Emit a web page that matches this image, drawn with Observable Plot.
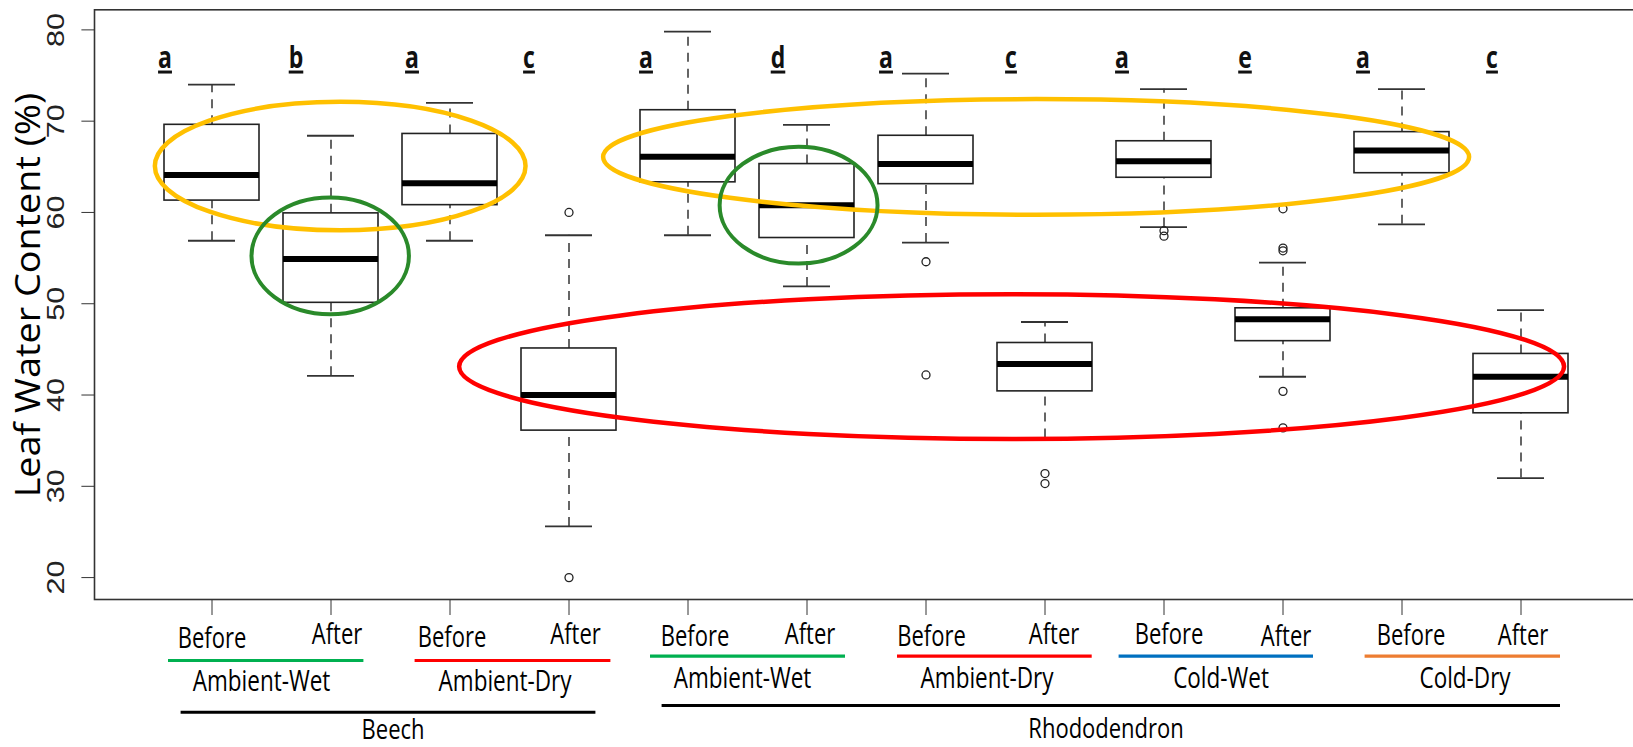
<!DOCTYPE html>
<html>
<head>
<meta charset="utf-8">
<script src="https://cdn.jsdelivr.net/npm/d3@7"></script>
<script src="https://cdn.jsdelivr.net/npm/@observablehq/plot@0.6"></script>
<style>
html, body { margin: 0; padding: 0; background: #fff; overflow: hidden; }
#chart svg { display: block; max-width: none !important; }
</style>
</head>
<body>
<div id="chart"></div>
<script>
// ---------- data ----------
const species = ["Beech","Beech","Beech","Beech",
  "Rhododendron","Rhododendron","Rhododendron","Rhododendron",
  "Rhododendron","Rhododendron","Rhododendron","Rhododendron"];
const treatments = ["Ambient-Wet","Ambient-Wet","Ambient-Dry","Ambient-Dry",
  "Ambient-Wet","Ambient-Wet","Ambient-Dry","Ambient-Dry",
  "Cold-Wet","Cold-Wet","Cold-Dry","Cold-Dry"];
const phases = ["Before","After","Before","After","Before","After",
  "Before","After","Before","After","Before","After"];

const whiskerLow  = [56.9, 42.1, 56.9, 25.6, 57.5, 51.9, 56.7, 35.3, 58.4, 42.0, 58.7, 30.9];
const q1          = [61.3, 50.1, 60.8, 36.1, 63.3, 57.2, 63.1, 40.4, 63.8, 45.9, 64.3, 38.0];
const median      = [64.1, 54.9, 63.2, 40.0, 66.1, 60.8, 65.3, 43.4, 65.6, 48.3, 66.8, 42.0];
const q3          = [69.6, 59.9, 68.6, 45.1, 71.2, 65.3, 68.4, 45.7, 67.8, 49.5, 68.8, 44.5];
const whiskerHigh = [74.0, 68.4, 72.0, 57.5, 79.8, 69.6, 75.2, 48.0, 73.5, 54.5, 73.5, 49.3];
const outliers = [[], [], [], [60.0, 20.0], [], [], [54.6, 42.2], [31.4, 30.3],
  [58.0, 57.4], [60.4, 56.1, 55.8, 40.4, 36.4], [], []];
const letters = ["a","b","a","c","a","d","a","c","a","e","a","c"];

const yTicks = [20, 30, 40, 50, 60, 70, 80];
const yDomain = [17.6, 82.2];
const yTitle = "Leaf Water Content (%)";

// hand-drawn rings (box-position units 1..12, value units)
const ringGroup = ["before", "wet-after", "before", "wet-after", "dry-after"];
const ringLeft  = [0.524, 1.336, 4.291, 5.270, 3.081];
const ringRight = [3.639, 2.659, 11.568, 6.597, 12.366];
const ringLow   = [57.99, 48.79, 59.70, 54.35, 35.13];
const ringHigh  = [72.06, 61.58, 72.36, 67.13, 50.99];

// ---------- styles / layout (pixel offsets of hand-placed labels) ----------
const treatmentColor = {"Ambient-Wet": "#00B050", "Ambient-Dry": "#FF0000", "Cold-Wet": "#0070C0", "Cold-Dry": "#ED7D31"};
const ringColor = {"before": "#FFC000", "wet-after": "#2A8A2A", "dry-after": "#FF0000"};
const ringWidth = {"before": 4.5, "wet-after": 4, "dry-after": 4.5};
const W = 1633, H = 747, ML = 94, MR = -4.5, MT = 9.3, MB = 148;
const padInner = 0.2, padOuter = 0.58;
const letterDx = [-47, -35, -38, -40, -42, -29, -40, -34, -42, -38, -39, -29];
const phaseDx  = [0, 6, 2, 6.5, 7, 3, 5.5, 9, 5, 3, 9, 2];
const phaseDy  = [48, 44.5, 47, 44.5, 46, 44.5, 46, 44.5, 44.5, 46, 45, 45];
const pairLabelDx = [-10, -4.5, -5, 1.5, -2.5, 3.5];
const pairLineInsetL = [4, 12.6, 10, 19, 2.6, 10.6];
const pairLineInsetR = [14.6, 5.6, 9, 0.3, 17, 8];
const layout = {
  Beech:        {underDy: 61,   treatDy: 91, lineDy: 112.7, insetL: 16.6, insetR: 20.6, labelDy: 139.2, labelDx: 2.5},
  Rhododendron: {underDy: 56.7, treatDy: 88, lineDy: 106,   insetL: 21.6, insetR: 8,    labelDy: 138.5, labelDx: 1.5}
};
const FONT = "Open Sans, Noto Sans, sans-serif";

// ---------- derived tables ----------
const keys = species.map((s, i) => `${s}|${treatments[i]}|${phases[i]}`);
const rows = keys.map((key, i) => ({key, species: species[i], treatment: treatments[i], phase: phases[i],
  lo: whiskerLow[i], q1: q1[i], med: median[i], q3: q3[i], hi: whiskerHigh[i], letter: letters[i]}));
const outlierRows = outliers.flatMap((vals, i) => vals.map(v => ({key: keys[i], value: v})));
const pairs = [];
for (let i = 0; i < keys.length; i += 2) pairs.push({species: species[i], treatment: treatments[i], before: keys[i], after: keys[i + 1]});
const speciesNames = [...new Set(species)];
const speciesRows = speciesNames.map(s => {
  const idx = keys.map((k, i) => i).filter(i => species[i] === s);
  return {species: s, first: keys[idx[0]], last: keys[idx[idx.length - 1]], mid: keys[idx[Math.floor((idx.length - 1) / 2)]]};
});
const step = (W - ML - MR) / (keys.length - padInner + 2 * padOuter);

// vertical stretch of text glyphs (the reference image is stretched)
const stretched = (sx, sy, extra) => (index, scales, values, dims, context, next) => {
  const g = next(index, scales, values, dims, context);
  g.querySelectorAll("text").forEach(t => {
    t.setAttribute("transform", (t.getAttribute("transform") || "") + ` scale(${sx},${sy})`);
    if (extra) extra(t);
  });
  return g;
};

function ringsMark(index, scales) {
  const {x, y} = scales;
  const c0 = x(keys[0]) + x.bandwidth() / 2;
  const st = x.step();
  const px = p => c0 + (p - 1) * st;
  const ns = "http://www.w3.org/2000/svg";
  const g = document.createElementNS(ns, "g");
  ringLeft.forEach((l, i) => {
    const xl = px(l), xr = px(ringRight[i]), yt = y(ringHigh[i]), yb = y(ringLow[i]);
    const e = document.createElementNS(ns, "ellipse");
    e.setAttribute("cx", (xl + xr) / 2);
    e.setAttribute("cy", (yt + yb) / 2);
    e.setAttribute("rx", Math.abs(xr - xl) / 2);
    e.setAttribute("ry", Math.abs(yb - yt) / 2);
    e.setAttribute("fill", "none");
    e.setAttribute("stroke", ringColor[ringGroup[i]]);
    e.setAttribute("stroke-width", ringWidth[ringGroup[i]]);
    g.appendChild(e);
  });
  return g;
}

const marks = [
  Plot.frame({stroke: "#333", strokeWidth: 1.6}),
  Plot.ruleX(rows, {x: "key", y1: "q3", y2: "hi", stroke: "#333", strokeWidth: 1.5, strokeDasharray: "9,7"}),
  Plot.ruleX(rows, {x: "key", y1: "lo", y2: "q1", stroke: "#333", strokeWidth: 1.5, strokeDasharray: "9,7"}),
  Plot.barY(rows, {x: "key", y1: "q1", y2: "q3", fill: "white", stroke: "#222", strokeWidth: 1.6}),
  Plot.tickY(rows, {x: "key", y: "hi", stroke: "#333", strokeWidth: 1.8, insetLeft: 24, insetRight: 24}),
  Plot.tickY(rows, {x: "key", y: "lo", stroke: "#333", strokeWidth: 1.8, insetLeft: 24, insetRight: 24}),
  Plot.tickY(rows, {x: "key", y: "med", stroke: "#000", strokeWidth: 6}),
  Plot.dot(outlierRows, {x: "key", y: "value", r: 4, stroke: "#222", strokeWidth: 1.3}),
  ringsMark,
  // y tick labels and title
  Plot.text(yTicks, {y: d => d, text: d => String(d), frameAnchor: "left", lineAnchor: "bottom", textAnchor: "middle",
    dx: -31, rotate: -90, fontFamily: "Liberation Sans, Arial, sans-serif", fontSize: 23, fill: "#222",
    render: stretched(1.33, 1)}),
  Plot.text([yTitle], {text: d => d, frameAnchor: "left", lineAnchor: "bottom", textAnchor: "middle",
    dx: -55, dy: -9.6, rotate: -90, fontFamily: FONT, fontSize: 35, fill: "#000",
    render: stretched(1.08, 1)})
];

// significance letters and Before/After labels, one per box
rows.forEach((r, i) => {
  marks.push(Plot.text([r], {x: "key", text: "letter", frameAnchor: "top", lineAnchor: "bottom", textAnchor: "middle",
    dy: 58.5, dx: letterDx[i], fontFamily: FONT, fontWeight: "bold", fontSize: 23, fill: "#111",
    render: stretched(1, 1.3, t => { t.style.textDecoration = "underline"; t.style.textUnderlineOffset = "4px"; })}));
  marks.push(Plot.text([r], {x: "key", text: "phase", frameAnchor: "bottom", lineAnchor: "bottom", textAnchor: "middle",
    dy: phaseDy[i], dx: phaseDx[i], fontFamily: FONT, fontSize: 22, fill: "#000", render: stretched(1, 1.3)}));
});

// treatment underlines and labels, one per pair
pairs.forEach((p, j) => {
  const L = layout[p.species];
  marks.push(Plot.ruleY([p], {x1: "before", x2: "after", y: () => yDomain[0], dy: L.underDy,
    stroke: treatmentColor[p.treatment], strokeWidth: 3.2, insetLeft: pairLineInsetL[j], insetRight: pairLineInsetR[j]}));
  marks.push(Plot.text([p], {x: "before", text: "treatment", frameAnchor: "bottom", lineAnchor: "bottom", textAnchor: "middle",
    dy: L.treatDy, dx: step / 2 + pairLabelDx[j], fontFamily: FONT, fontSize: 22.5, fill: "#000", render: stretched(1, 1.3)}));
});

// species lines and labels
speciesRows.forEach(sr => {
  const L = layout[sr.species];
  marks.push(Plot.ruleY([sr], {x1: "first", x2: "last", y: () => yDomain[0], dy: L.lineDy,
    stroke: "#000", strokeWidth: 3, insetLeft: L.insetL, insetRight: L.insetR}));
  marks.push(Plot.text([sr], {x: "mid", text: "species", frameAnchor: "bottom", lineAnchor: "bottom", textAnchor: "middle",
    dy: L.labelDy, dx: step / 2 + L.labelDx, fontFamily: FONT, fontSize: 22, fill: "#000", render: stretched(1, 1.27)}));
});

const chart = Plot.plot({
  width: W, height: H,
  marginLeft: ML, marginRight: MR, marginTop: MT, marginBottom: MB,
  style: {background: "white", color: "#333", maxWidth: "none"},
  x: {type: "band", domain: keys, paddingInner: padInner, paddingOuter: padOuter, align: 0.5,
      tickSize: 16, tickFormat: () => "", label: null},
  y: {domain: yDomain, ticks: yTicks, tickSize: 12.6, tickFormat: () => "", label: null},
  marks
});
document.getElementById("chart").appendChild(chart);
</script>
</body>
</html>
